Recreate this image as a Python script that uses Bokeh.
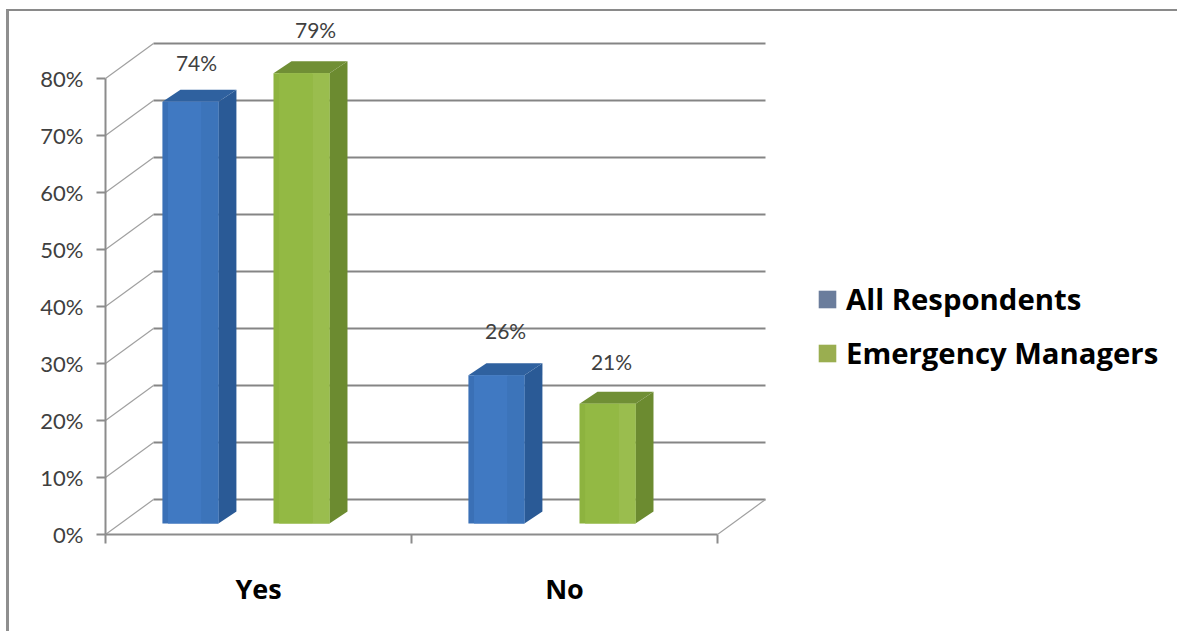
from bokeh.embed import file_html
from bokeh.resources import INLINE
from bokeh.models import FixedTicker, Legend, LegendItem, Range1d
from bokeh.plotting import figure
from bokeh.core.properties import value

# survey results, in percent
categories = ["Yes", "No"]
series_names = ["All Respondents", "Emergency Managers"]
all_respondents = [74, 26]
emergency_managers = [79, 21]
percent_ticks = [0, 10, 20, 30, 40, 50, 60, 70, 80]

# faces of each 3D bar: (front stripes left to right, side, top)
blue_faces = (["#3a70b6", "#4079c2", "#3c74ba"], "#2a5a96", "#2f619f")
green_faces = (["#8db33f", "#93b944", "#9abd4e"], "#6c8b30", "#708f35")
legend_colors = ["#6b7d9c", "#9aae50"]

# horizontal space: one unit per category group; vertical space: percent
PX_X = 306.0
PX_Y = 5.7
FRAME_W, FRAME_H = 1075, 523
BAR_W = 0.183
BAR_OFFSETS = [0.186, 0.549]
FLOOR = 11 / PX_Y          # bars stand a little behind the front axis plane
DEPTH_X, DEPTH_Y = 18 / PX_X, 12 / PX_Y       # depth of a bar
WALL_X, WALL_Y = 48 / PX_X, 35 / PX_Y         # depth of the chart box
LABEL_NUDGE_X = [[0.02, 0.046], [0.03, 0.013]]
LABEL_NUDGE_Y = [[8.8, 9.6], [9.8, 9.4]]

# the top and left rules of the chart area are borders of the figure itself
p = figure(width=1171, height=622, output_backend="svg", toolbar_location=None,
           x_range=Range1d(0, FRAME_W / PX_X), y_range=Range1d(0, FRAME_H / PX_Y),
           min_border_left=96, min_border_right=0, min_border_top=0,
           min_border_bottom=99, outline_line_color=None,
           margin=(9, 0, 0, 6),
           styles={"border-top": "2px solid #8a8a8a",
                   "border-left": "3px solid #8f8f8f"},
           background_fill_color="#ffffff", border_fill_color="#ffffff")
p.grid.visible = False

# back wall gridlines and the slanted lines on the side wall
GRID = "#858585"
for t in percent_ticks:
    p.line([WALL_X, 2 + WALL_X], [t + WALL_Y, t + WALL_Y], line_color=GRID, line_width=2)
    p.line([0, WALL_X], [t, t + WALL_Y], line_color="#a0a0a0", line_width=1.2)
p.line([2, 2 + WALL_X], [0, WALL_Y], line_color="#a0a0a0", line_width=1.2)


def draw_bar(x0, v, faces):
    """Draw one 3D bar whose front face spans x0..x0+BAR_W and rises to v."""
    stripes, side, top = faces
    base, roof = FLOOR, FLOOR + v
    x1 = x0 + BAR_W
    p.patch([x1, x1 + DEPTH_X, x1 + DEPTH_X, x1],
            [base, base + DEPTH_Y, roof + DEPTH_Y, roof], color=side, line_width=0)
    p.patch([x0, x0 + DEPTH_X, x1 + DEPTH_X, x1],
            [roof, roof + DEPTH_Y, roof + DEPTH_Y, roof], color=top, line_width=0)
    p.quad(left=x0, right=x1, bottom=base, top=roof, color=stripes[0], line_width=0)
    p.quad(left=x0 + BAR_W * 0.1, right=x0 + BAR_W * 0.7, bottom=base, top=roof,
           color=stripes[1], line_width=0)
    p.quad(left=x0 + BAR_W * 0.7, right=x1, bottom=base, top=roof,
           color=stripes[2], line_width=0)


label_font = value("Lato")
for i in range(len(categories)):
    for j, (vals, faces) in enumerate(((all_respondents, blue_faces),
                                       (emergency_managers, green_faces))):
        x0 = i + BAR_OFFSETS[j]
        draw_bar(x0, vals[i], faces)
        p.text(x=[x0 + BAR_W / 2 + LABEL_NUDGE_X[i][j]],
               y=[vals[i] + LABEL_NUDGE_Y[i][j]],
               text=[f"{vals[i]}%"], text_font=label_font, text_font_size="21px",
               text_color="#404040", text_align="center", text_baseline="middle")

# axes
AXIS = "#8c8c8c"
xa = p.xaxis[0]
xa.bounds = (0, 2)
xa.ticker = FixedTicker(ticks=[0.5, 1.5], minor_ticks=[0, 1, 2])
xa.major_label_overrides = {0.5: categories[0], 1.5: categories[1]}
xa.major_tick_line_color = None
xa.minor_tick_in = 0
xa.minor_tick_out = 9
xa.minor_tick_line_color = AXIS
xa.minor_tick_line_width = 2
xa.axis_line_color = AXIS
xa.axis_line_width = 2
xa.major_label_standoff = 26
xa.major_label_text_font = "Open Sans"
xa.major_label_text_font_style = "bold"
xa.major_label_text_font_size = "27px"
xa.major_label_text_color = "#000000"

ya = p.yaxis[0]
ya.bounds = (0, 80)
ya.ticker = FixedTicker(ticks=percent_ticks)
ya.major_label_overrides = {t: f"{t}%" for t in percent_ticks}
ya.minor_tick_line_color = None
ya.major_tick_in = 0
ya.major_tick_out = 9
ya.major_tick_line_color = AXIS
ya.major_tick_line_width = 2
ya.axis_line_color = AXIS
ya.axis_line_width = 2
ya.major_label_standoff = 13
ya.major_label_text_font = "Lato"
ya.major_label_text_font_size = "22px"
ya.major_label_text_color = "#404040"

# legend with its own swatches (no visible data of their own)
nan = float("nan")
swatches = [p.quad(left=[nan], right=[nan], bottom=[nan], top=[nan], color=c, line_width=0)
            for c in legend_colors]
legend = Legend(items=[LegendItem(label=n, renderers=[r])
                       for n, r in zip(series_names, swatches)],
                location=(711, 161), orientation="vertical",
                background_fill_alpha=0, border_line_color=None,
                padding=0, margin=0, spacing=14, glyph_width=22, glyph_height=22,
                label_height=19, label_standoff=8,
                label_text_font="Open Sans", label_text_font_style="bold",
                label_text_font_size="29.3px", label_text_color="#000000",
                label_text_baseline="middle")
p.add_layout(legend)

open("out.html", "w").write(file_html(p, INLINE))
